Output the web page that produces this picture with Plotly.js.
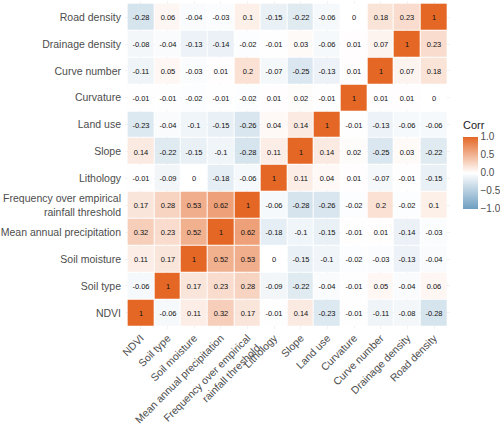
<!DOCTYPE html>
<html>
<head>
<meta charset="utf-8">
<script src="https://cdn.plot.ly/plotly-3.0.1.min.js"></script>
<style>html,body{margin:0;padding:0;background:#fff;}#chart{width:500px;height:424px;}</style>
</head>
<body>
<div id="chart"></div>
<script>
// Variables (bottom-to-top on y, left-to-right on x)
const variables = ["NDVI", "Soil type", "Soil moisture", "Mean annual precipitation",
  "Frequency over empirical<br>rainfall threshold", "Lithology", "Slope", "Land use",
  "Curvature", "Curve number", "Drainage density", "Road density"];

// Correlation rows, one per variable, columns in the same order as `variables`
const ndvi         = [1, -0.06, 0.11, 0.32, 0.17, -0.01, 0.14, -0.23, -0.01, -0.11, -0.08, -0.28];
const soilType     = [-0.06, 1, 0.17, 0.23, 0.28, -0.09, -0.22, -0.04, -0.01, 0.05, -0.04, 0.06];
const soilMoisture = [0.11, 0.17, 1, 0.52, 0.53, 0, -0.15, -0.1, -0.02, -0.03, -0.13, -0.04];
const meanPrecip   = [0.32, 0.23, 0.52, 1, 0.62, -0.18, -0.1, -0.15, -0.01, 0.01, -0.14, -0.03];
const freqThresh   = [0.17, 0.28, 0.53, 0.62, 1, -0.06, -0.28, -0.26, -0.02, 0.2, -0.02, 0.1];
const lithology    = [-0.01, -0.09, 0, -0.18, -0.06, 1, 0.11, 0.04, 0.01, -0.07, -0.01, -0.15];
const slope        = [0.14, -0.22, -0.15, -0.1, -0.28, 0.11, 1, 0.14, 0.02, -0.25, 0.03, -0.22];
const landUse      = [-0.23, -0.04, -0.1, -0.15, -0.26, 0.04, 0.14, 1, -0.01, -0.13, -0.06, -0.06];
const curvature    = [-0.01, -0.01, -0.02, -0.01, -0.02, 0.01, 0.02, -0.01, 1, 0.01, 0.01, 0];
const curveNumber  = [-0.11, 0.05, -0.03, 0.01, 0.2, -0.07, -0.25, -0.13, 0.01, 1, 0.07, 0.18];
const drainageDens = [-0.08, -0.04, -0.13, -0.14, -0.02, -0.01, 0.03, -0.06, 0.01, 0.07, 1, 0.23];
const roadDens     = [-0.28, 0.06, -0.04, -0.03, 0.1, -0.15, -0.22, -0.06, 0, 0.18, 0.23, 1];

const colorbarTicks = [-1, -0.5, 0, 0.5, 1];

const z = [ndvi, soilType, soilMoisture, meanPrecip, freqThresh, lithology,
           slope, landUse, curvature, curveNumber, drainageDens, roadDens];
const textVals = z.map(r => r.map(v => String(v)));

const W = 500, H = 424;
const mL = 124.8, mT = 1.3, pw = 326.9, ph = 327.4;
const mR = W - mL - pw, mB = H - mT - ph;
const toPX = px => (px - mL) / pw;
const toPY = py => (H - mB - py) / ph;

const font = "Liberation Sans, Arial, Helvetica, sans-serif";

const trace = {
  type: "heatmap",
  x: variables,
  y: variables,
  z: z,
  text: textVals,
  texttemplate: "%{text}",
  textfont: {family: font, size: 7.5, color: "#111"},
  zmin: -1, zmax: 1,
  xgap: 1, ygap: 1,
  colorscale: [[0, "#6D9EC1"], [0.5, "#FFFFFF"], [1, "#E46726"]],
  hoverongaps: false,
  colorbar: {
    x: toPX(465), xanchor: "left", xpad: 0,
    y: toPY(172.5), yanchor: "middle", ypad: 0,
    len: 72, lenmode: "pixels",
    thickness: 15, thicknessmode: "pixels",
    outlinewidth: 0,
    tickvals: colorbarTicks, tickformat: ".1f",
    ticks: "", ticklen: 0,
    tickfont: {family: font, size: 10, color: "#4d4d4d"}
  }
};

const layout = {
  width: W, height: H,
  margin: {l: mL, r: mR, t: mT, b: mB, pad: 0},
  paper_bgcolor: "#fff", plot_bgcolor: "#fff",
  font: {family: font},
  showlegend: false,
  xaxis: {
    type: "category", range: [-0.6, 11.6], tickangle: -45,
    showgrid: true, gridcolor: "#ebebeb", gridwidth: 0.6,
    zeroline: false, showline: false, ticks: "",
    tickfont: {family: font, size: 10.5, color: "#4d4d4d"},
    fixedrange: true
  },
  yaxis: {
    type: "category", range: [-0.6, 11.6],
    showgrid: true, gridcolor: "#ebebeb", gridwidth: 0.6,
    zeroline: false, showline: false, ticks: "",
    tickfont: {family: font, size: 10.5, color: "#4d4d4d"},
    ticklabelstandoff: 3,
    fixedrange: true
  },
  annotations: [{
    text: "Corr", xref: "paper", yref: "paper",
    x: toPX(463), y: toPY(125), xanchor: "left", yanchor: "middle",
    showarrow: false, font: {family: font, size: 11, color: "#1a1a1a"}
  }]
};

Plotly.newPlot("chart", [trace], layout, {displayModeBar: false, staticPlot: true});
</script>
</body>
</html>
